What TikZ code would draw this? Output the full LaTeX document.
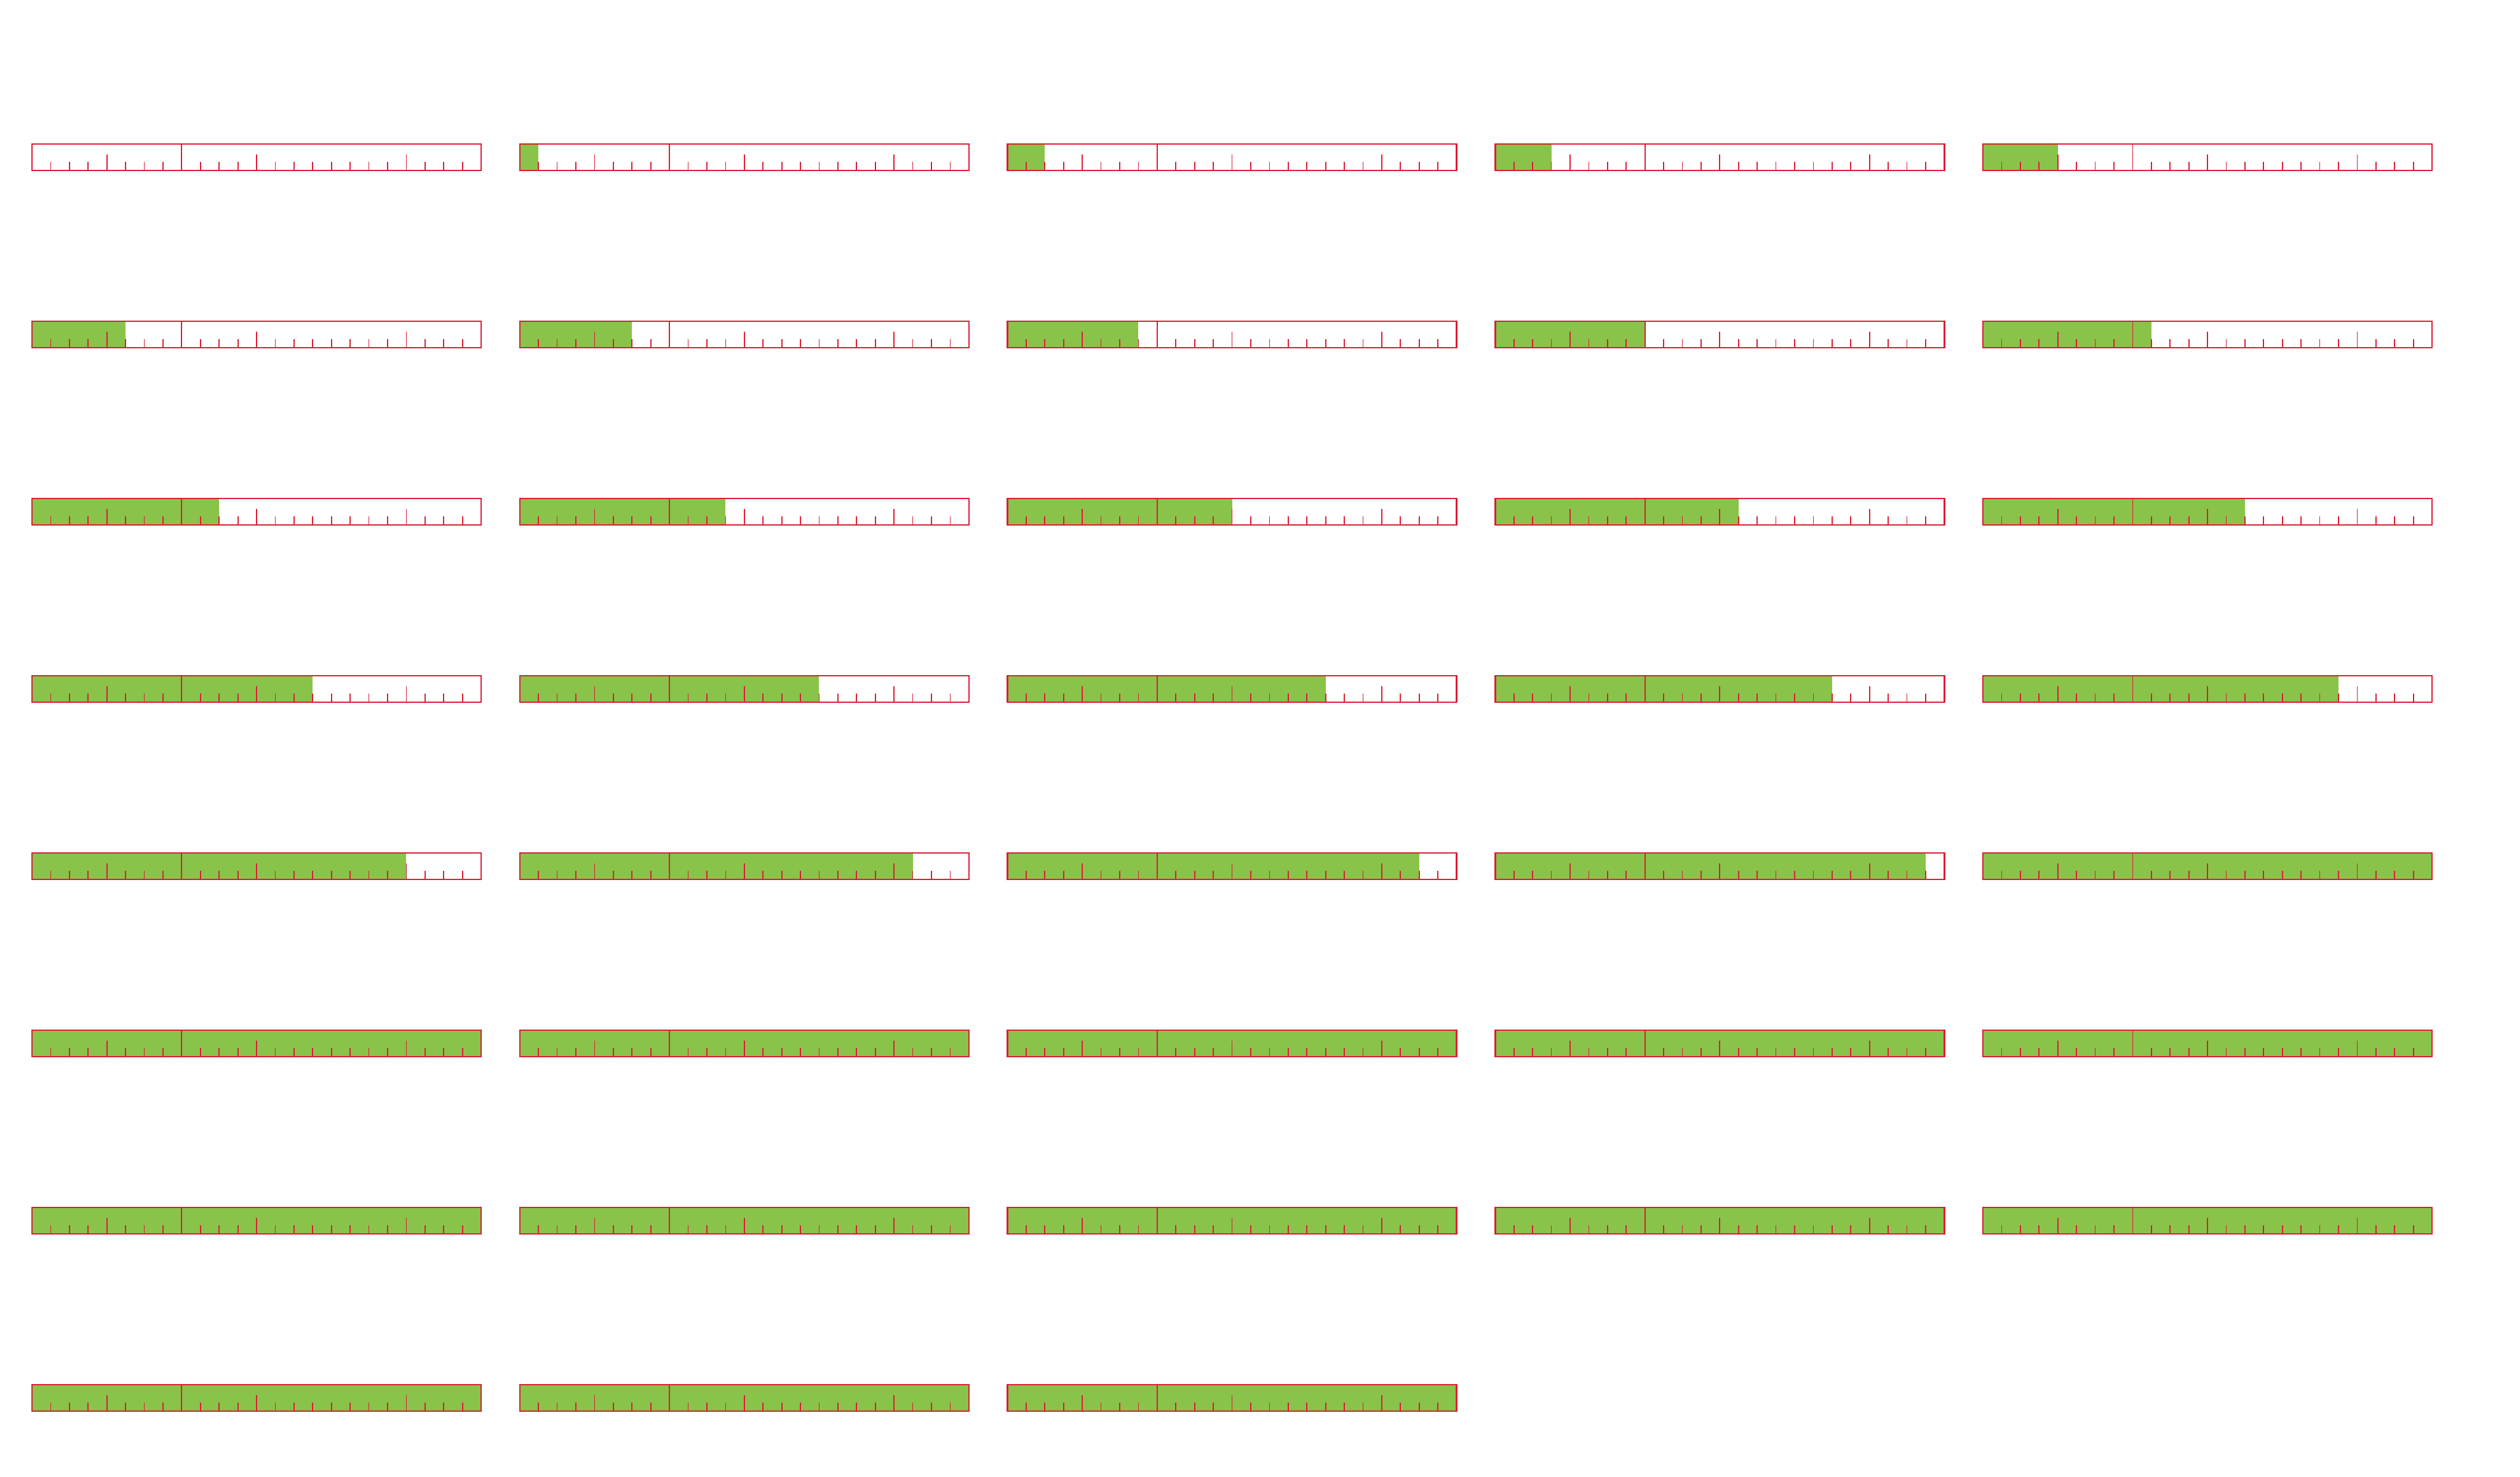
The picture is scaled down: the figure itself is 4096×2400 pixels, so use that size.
\documentclass[tikz,border=0pt]{standalone}

\definecolor{barred}{RGB}{221,27,51}
\definecolor{bargreen}{RGB}{137,195,74}

\tikzset{
  barframe/.style={draw=barred, line width=0.7pt},
  bartick/.style={draw=barred, line width=0.5pt},
  barfill/.style={fill=bargreen},
}

\begin{document}
\begin{tikzpicture}[x=0.01cm,y=-0.01cm]

  % 画布大小
  \useasboundingbox (0,0) rectangle (4096,2400);

  % 38 根进度条, 每行 5 根, 每根 24 格
  \foreach \n in {0,...,37} {
    \pgfmathtruncatemacro{\bcol}{mod(\n,5)}
    \pgfmathtruncatemacro{\brow}{div(\n,5)}
    \pgfmathsetmacro{\bx}{52+792.75*\bcol}
    \pgfmathsetmacro{\by}{234+288*\brow}
    \pgfmathtruncatemacro{\hrs}{min(\n,24)}
    \begin{scope}[shift={(\bx,\by)}]
      % 已填充部分
      \ifnum\hrs>0
        \fill[barfill] (0,0) rectangle (\hrs*30.42,43);
      \fi
      % 小刻度
      \foreach \k in {1,2,3,5,6,7,9,10,11,13,14,15,16,17,18,19,21,22,23} {
        \draw[bartick] (\k*30.42,43) -- (\k*30.42,29);
      }
      % 长刻度
      \foreach \k in {4,12,20} {
        \draw[bartick] (\k*30.42,43) -- (\k*30.42,17);
      }
      % 分隔线
      \draw[bartick] (8*30.42,43) -- (8*30.42,0);
      % 外框
      \draw[barframe] (0,0) rectangle (730,43);
    \end{scope}
  }

\end{tikzpicture}
\end{document}
